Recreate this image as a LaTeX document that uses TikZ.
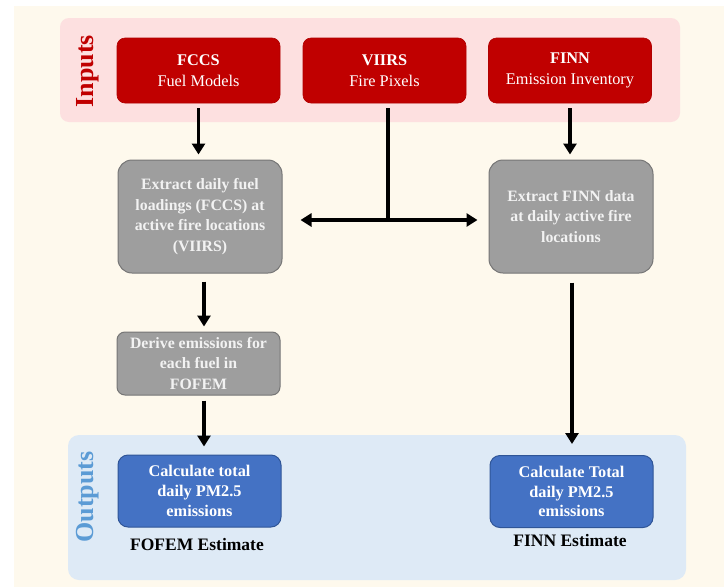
\documentclass[tikz,border=0pt]{standalone}
\usepackage{fontspec}
\setmainfont{Liberation Serif}
\usetikzlibrary{arrows.meta}
\definecolor{cream}{RGB}{254,249,237}
\definecolor{pinkpanel}{RGB}{253,224,224}
\definecolor{bluepanel}{RGB}{222,234,246}
\definecolor{redbox}{RGB}{192,0,0}
\definecolor{redline}{RGB}{176,0,0}
\definecolor{graybox}{RGB}{158,158,158}
\definecolor{grayline}{RGB}{118,118,118}
\definecolor{bluebox}{RGB}{68,114,196}
\definecolor{blueline}{RGB}{47,85,151}
\definecolor{outtext}{RGB}{91,155,213}
\begin{document}
\begin{tikzpicture}[x=1pt,y=-1pt,
  redstyle/.style={draw=redline,fill=redbox,rounded corners=8pt,line width=0.6pt,minimum width=163pt,minimum height=65pt,text=white,align=center,font=\fontsize{16.3}{21.5}\selectfont,inner sep=0pt},
  graystyle/.style={draw=grayline,fill=graybox,rounded corners=14pt,line width=1pt,minimum width=164pt,text=white!95!black,align=center,font=\bfseries\fontsize{15.8}{20.5}\selectfont,inner sep=0pt},
  bluestyle/.style={draw=blueline,fill=bluebox,rounded corners=10pt,line width=1pt,minimum width=163pt,minimum height=72pt,text=white,align=center,font=\bfseries\fontsize{16.3}{19.6}\selectfont,inner sep=0pt},
  lbl/.style={font=\bfseries\fontsize{17.5}{20}\selectfont,inner sep=0pt},
  arr/.style={line width=3.6pt,-{Triangle[width=13pt,length=11pt]}},
  dblarr/.style={line width=3.6pt,{Triangle[width=13pt,length=11pt]}-{Triangle[width=13pt,length=11pt]}},
  plain/.style={line width=3.6pt}]
\useasboundingbox (0,0) rectangle (724,587);
\fill[white] (0,0) rectangle (724,587);
\fill[cream] (14,6) rectangle (724,587);
% panels
\fill[pinkpanel,rounded corners=9pt] (60,18) rectangle (680,122);
\fill[bluepanel,rounded corners=11pt] (68,435) rectangle (686,580);
\node[rotate=90,text=redbox,font=\bfseries\fontsize{26}{26}\selectfont,inner sep=0pt] (inlab) at (88,71) {Inputs};
\node[rotate=90,text=outtext,font=\bfseries\fontsize{26}{26}\selectfont,inner sep=0pt] (outlab) at (88,497) {Outputs};
% input boxes
\node[redstyle] (fccs) at (198.5,70.5) {\textbf{FCCS}\\Fuel Models};
\node[redstyle] (viirs) at (384.5,70.5) {\textbf{VIIRS}\\Fire Pixels};
\node[redstyle] (finn) at (570,70.5) {\textbf{FINN}\\Emission Inventory};
% process boxes
\node[graystyle,minimum height=113pt] (g1) at (200,216.5) {Extract daily fuel\\loadings (FCCS) at\\active fire locations\\(VIIRS)};
\node[graystyle,minimum height=113pt] (g2) at (571,216.5) {Extract FINN data\\at daily active fire\\locations};
\node[graystyle,minimum width=163pt,minimum height=63pt,rounded corners=8pt] (g3) at (198.5,363.5) {Derive emissions for\\each fuel in\\FOFEM};
% outputs
\node[bluestyle] (b1) at (199.5,491) {Calculate total\\daily PM2.5\\emissions};
\node[bluestyle] (b2) at (571.5,491.5) {Calculate Total\\daily PM2.5\\emissions};
\node[lbl] (e1) at (197,545) {FOFEM Estimate};
\node[lbl] (e2) at (570,541) {FINN Estimate};
% connectors
\coordinate (j) at (388,220);
\draw[arr,shorten <=5pt,shorten >=5pt] (fccs.south) -- (fccs.south |- g1.north);
\draw[arr,shorten <=5pt,shorten >=5pt] (finn.south) -- (finn.south |- g2.north);
\draw[plain,shorten <=5pt] (viirs.south -| j) -- ([yshift=1.8pt]j);
\draw[dblarr,shorten <=18pt,shorten >=11pt] (j -| g1.east) -- (j -| g2.west);
\draw[arr,shorten <=8pt,shorten >=5pt] ([xshift=4pt]g1.south) -- ([xshift=4pt]g1.south |- g3.north);
\draw[arr,shorten <=5pt,shorten >=8pt] ([xshift=5.5pt]g3.south) -- ([xshift=5.5pt]g3.south |- b1.north);
\draw[arr,shorten <=9pt,shorten >=11pt] ([xshift=1pt]g2.south) -- ([xshift=1pt]g2.south |- b2.north);
\end{tikzpicture}
\end{document}
